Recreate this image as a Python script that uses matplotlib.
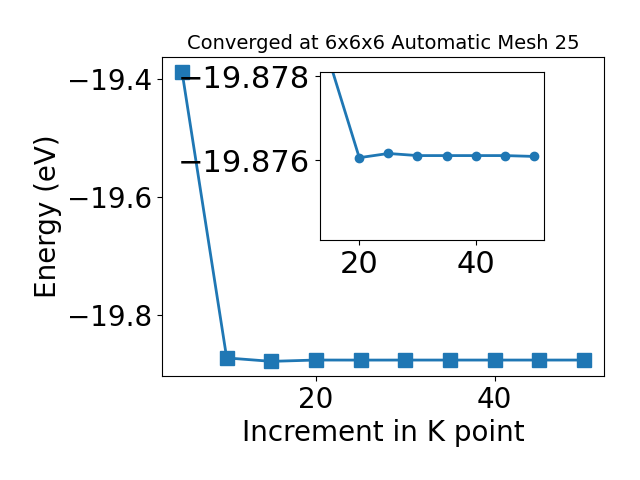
import matplotlib
matplotlib.use("Agg")
import matplotlib.pyplot as plt

kpoints = [5, 10, 15, 20, 25, 30, 35, 40, 45, 50]
energy = [-19.388, -19.8725, -19.8783, -19.87606, -19.87616, -19.87611,
          -19.87611, -19.87611, -19.87611, -19.87609]

title = "Converged at 6x6x6 Automatic Mesh 25"

fig = plt.figure(figsize=(6.4, 4.8), dpi=100)
ax = fig.add_axes([0.253, 0.217, 0.691, 0.664])
ax.plot(kpoints, energy, marker="s", markersize=10, linewidth=2, color="#1f77b4")
ax.set_xlabel("Increment in K point", fontsize=20)
ax.set_ylabel("Energy (eV)", fontsize=20)
ax.set_title(title, fontsize=14)
ax.tick_params(labelsize=20)
ax.set_yticks([-19.4, -19.6, -19.8])
ax.set_xticks([20, 40])

ins = fig.add_axes([0.5, 0.5, 0.35, 0.35])
ins.plot(kpoints[2:], energy[2:], marker="o", markersize=6, linewidth=2, color="#1f77b4")
ins.set_ylim(-19.8741, -19.8781)
ins.ticklabel_format(axis="y", useOffset=False)
ins.set_yticks([-19.878, -19.876])
ins.set_xticks([20, 40])
ins.tick_params(labelsize=22)

fig.savefig("out.png", dpi=100)
